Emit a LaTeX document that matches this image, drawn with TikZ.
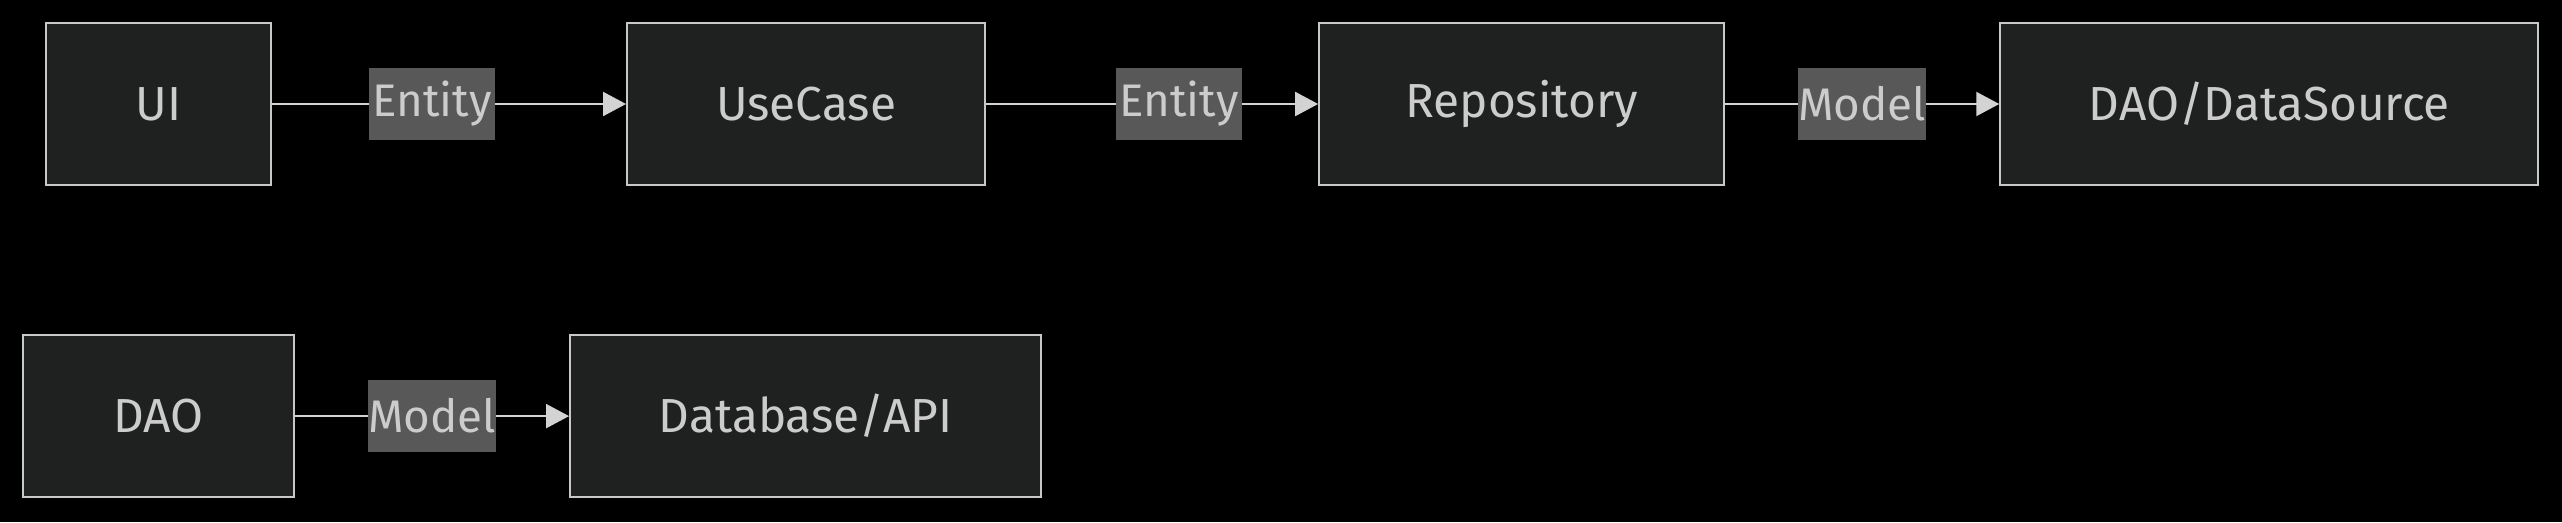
\documentclass[tikz,border=0pt]{standalone}
\usepackage{fontspec}
\setmainfont{Fira Sans}
\usepackage{xcolor}
\usepackage{tikz}
\usetikzlibrary{arrows.meta,positioning}
\definecolor{nodebg}{HTML}{1F2020}
\definecolor{nodeline}{HTML}{C8C8C8}
\definecolor{edgeline}{HTML}{D3D3D3}
\definecolor{lblbg}{HTML}{585858}
\definecolor{txt}{HTML}{CCCCCC}

\begin{document}
\begin{tikzpicture}[node distance=2.74cm,font=\fontsize{13.6}{16}\selectfont]
    \tikzstyle{b}=[draw=nodeline,line width=0.6pt,fill=nodebg,minimum height=1.62cm,text=txt]
    \tikzstyle{lbl}=[fill=lblbg,text=txt,minimum width=1.26cm,minimum height=0.72cm,inner xsep=0pt,font=\fontsize{13}{16}\selectfont]
    \tikzstyle{flow}=[-{Triangle[length=0.23cm,width=0.24cm]},line width=0.6pt,draw=edgeline]
    \fill[black] (0,0) rectangle (25.62,-5.22);
    % top row
    \node[b,minimum width=2.25cm]                      (ui)   at (1.585,-1.04) {UI};
    \node[b,minimum width=3.58cm,right=3.54cm of ui]   (uc)   {UseCase};
    \node[b,minimum width=4.05cm,right=3.32cm of uc]   (repo) {Repository};
    \node[b,minimum width=5.38cm,right=of repo]        (ds)   {DAO/DataSource};
    % bottom row
    \node[b,minimum width=2.71cm,below=1.48cm of ui]   (dao)  {DAO};
    \node[b,minimum width=4.71cm,right=of dao]         (db)   {Database/API};
    \draw[flow] (ui)   -- node[lbl,pos=0.452]{Entity} (uc);
    \draw[flow] (uc)   -- node[lbl,pos=0.581]{Entity} (repo);
    \draw[flow] (repo) -- node[lbl]{Model} (ds);
    \draw[flow] (dao)  -- node[lbl]{Model} (db);
\end{tikzpicture}
\end{document}
